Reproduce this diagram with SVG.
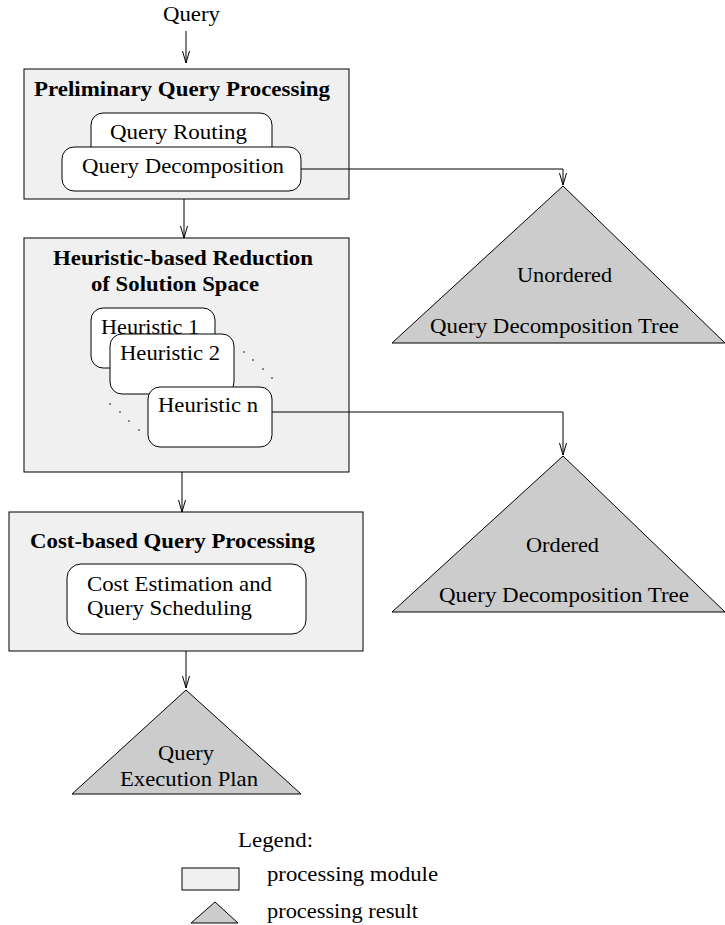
<svg xmlns="http://www.w3.org/2000/svg" width="725" height="925" viewBox="0 0 725 925">
<style>
text{font-family:"Liberation Serif","Times New Roman",serif;font-size:21px;fill:#000}
.b{font-weight:bold;font-size:21px}
.mod{fill:#f0f0f0;stroke:#000;stroke-width:1}
.sub{fill:#fff;stroke:#000;stroke-width:1}
.res{fill:#cccccc;stroke:#000;stroke-width:1}
.c{fill:none;stroke:#000;stroke-width:1}
.dot{fill:#000}
</style>
<defs>
<marker id="a" viewBox="0 0 12 8" refX="12" refY="4" markerWidth="12" markerHeight="8" markerUnits="userSpaceOnUse" orient="auto">
<path d="M0,0.5 L12,4 L0,7.5" fill="none" stroke="#000" stroke-width="1"/>
</marker>
</defs>
<text id="query-in" x="163" y="21" textLength="57" lengthAdjust="spacingAndGlyphs">Query</text>
<g id="preliminary">
<rect class="mod" x="24" y="69" width="325" height="130"/>
<text class="b" x="34" y="96" textLength="296" lengthAdjust="spacingAndGlyphs">Preliminary Query Processing</text>
<g id="query-routing">
<rect class="sub" x="91" y="113" width="181" height="50" rx="12"/>
<text x="110" y="139" textLength="137" lengthAdjust="spacingAndGlyphs">Query Routing</text>
</g>
<g id="query-decomposition">
<rect class="sub" x="62" y="147" width="239" height="44" rx="12"/>
<text x="82" y="173" textLength="202" lengthAdjust="spacingAndGlyphs">Query Decomposition</text>
</g>
</g>
<g id="heuristic">
<rect class="mod" x="24" y="238" width="325" height="234"/>
<text class="b" x="53" y="265" textLength="260" lengthAdjust="spacingAndGlyphs">Heuristic-based Reduction</text>
<text class="b" x="91" y="291" textLength="168" lengthAdjust="spacingAndGlyphs">of Solution Space</text>
<g id="heuristic-1">
<rect class="sub" x="91" y="308" width="124" height="60" rx="12"/>
<text x="101" y="334" textLength="98" lengthAdjust="spacingAndGlyphs">Heuristic 1</text>
</g>
<g id="heuristic-2">
<rect class="sub" x="110" y="334" width="124" height="60" rx="12"/>
<text x="120" y="360" textLength="100" lengthAdjust="spacingAndGlyphs">Heuristic 2</text>
</g>
<g id="dots">
<circle class="dot" cx="244" cy="352" r="0.8"/>
<circle class="dot" cx="253" cy="360" r="0.8"/>
<circle class="dot" cx="263" cy="369" r="0.8"/>
<circle class="dot" cx="272" cy="378" r="0.8"/>
<circle class="dot" cx="110" cy="404" r="0.8"/>
<circle class="dot" cx="120" cy="412" r="0.8"/>
<circle class="dot" cx="129" cy="421" r="0.8"/>
<circle class="dot" cx="139" cy="430" r="0.8"/>
</g>
<g id="heuristic-n">
<rect class="sub" x="148" y="387" width="124" height="60" rx="12"/>
<text x="158" y="412" textLength="100" lengthAdjust="spacingAndGlyphs">Heuristic n</text>
</g>
</g>
<g id="cost-based">
<rect class="mod" x="9" y="512" width="354" height="139"/>
<text class="b" x="30" y="548" textLength="285" lengthAdjust="spacingAndGlyphs">Cost-based Query Processing</text>
<g id="cost-estimation">
<rect class="sub" x="67" y="564" width="239" height="70" rx="14"/>
<text x="87" y="591" textLength="185" lengthAdjust="spacingAndGlyphs">Cost Estimation and</text>
<text x="87" y="615" textLength="165" lengthAdjust="spacingAndGlyphs">Query Scheduling</text>
</g>
</g>
<g id="unordered-tree">
<polygon class="res" points="563,186 725,343 392,343"/>
<text x="517" y="282" textLength="95" lengthAdjust="spacingAndGlyphs">Unordered</text>
<text x="430" y="333" textLength="249" lengthAdjust="spacingAndGlyphs">Query Decomposition Tree</text>
</g>
<g id="ordered-tree">
<polygon class="res" points="563,456 725,612 392,612"/>
<text x="526" y="552" textLength="73" lengthAdjust="spacingAndGlyphs">Ordered</text>
<text x="439" y="602" textLength="250" lengthAdjust="spacingAndGlyphs">Query Decomposition Tree</text>
</g>
<g id="execution-plan">
<polygon class="res" points="186,690 301,794 72,794"/>
<text x="158" y="760" textLength="56" lengthAdjust="spacingAndGlyphs">Query</text>
<text x="120" y="786" textLength="138" lengthAdjust="spacingAndGlyphs">Execution Plan</text>
</g>
<g id="connectors">
<path class="c" d="M186,31 V63" marker-end="url(#a)"/>
<path class="c" d="M184,199 V238" marker-end="url(#a)"/>
<path class="c" d="M182,472 V512" marker-end="url(#a)"/>
<path class="c" d="M186,651 V688" marker-end="url(#a)"/>
<path class="c" d="M301,169 H563 V185" marker-end="url(#a)"/>
<path class="c" d="M272,412 H563 V455" marker-end="url(#a)"/>
</g>
<g id="legend">
<text x="238" y="847" textLength="75" lengthAdjust="spacingAndGlyphs">Legend:</text>
<rect class="mod" x="182" y="868" width="57" height="22"/>
<text x="267" y="881" textLength="171" lengthAdjust="spacingAndGlyphs">processing module</text>
<polygon class="res" points="215,902 238,923 191,923"/>
<text x="267" y="918" textLength="151" lengthAdjust="spacingAndGlyphs">processing result</text>
</g>
</svg>
